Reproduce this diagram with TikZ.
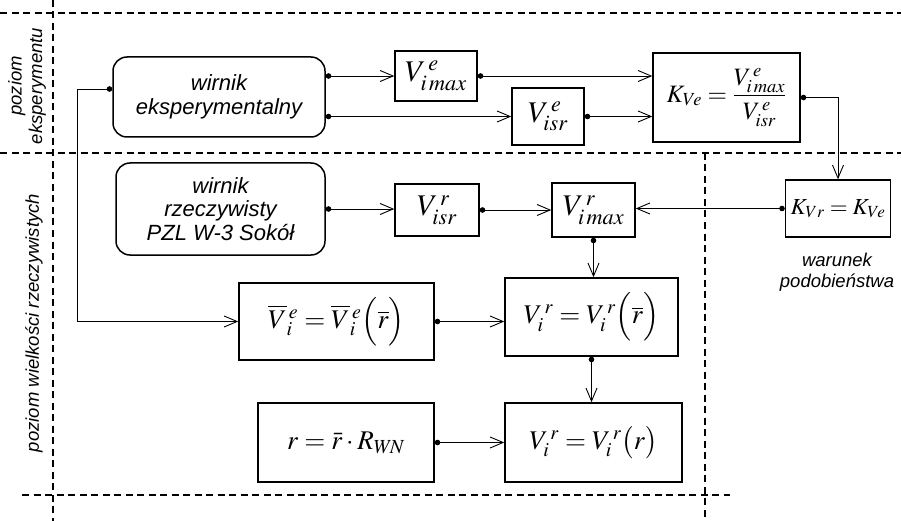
\documentclass[tikz,border=0pt]{standalone}
\usepackage{mathptmx}
\usepackage{amsmath}
\usepackage[no-math]{fontspec}
\newfontfamily\labfont{Liberation Sans}
\usetikzlibrary{arrows.meta,calc}
\begin{document}
\begin{tikzpicture}[x=1pt,y=-1pt,
  box/.style={draw,line width=1.5pt,inner sep=0pt,fill=white},
  rbox/.style={box,rounded corners=14pt,align=center,font=\labfont\itshape\fontsize{22}{23.5}\selectfont},
  mbig/.style={font=\fontsize{30}{32}\selectfont},
  mmid/.style={font=\fontsize{27}{29}\selectfont},
  msml/.style={font=\fontsize{23}{25}\selectfont},
  mfrac/.style={font=\fontsize{25}{27}\selectfont},
  arr/.style={line width=0.9pt,{Circle[length=5.5pt]}-{Straight Barb[length=13pt,width=11pt]}},
  sep/.style={line width=1.1pt,dash pattern=on 7pt off 4.5pt},
  lab/.style={font=\labfont\itshape\fontsize{18.5}{20.5}\selectfont,align=center}
]
\useasboundingbox (0,0) rectangle (901,521);
% separators
\draw[sep] (0,13) -- (901,13);
\draw[sep] (0,153) -- (901,153);
\draw[sep] (22,495) -- (730,495);
\draw[sep] (53,0) -- (53,521);
\draw[sep] (705,153) -- (705,521);
% level labels
\node[lab,rotate=90] (l1) at (27,86) {poziom\\eksperymentu};
\node[lab,rotate=90] (l2) at (34,323) {poziom wielkości rzeczywistych};
\node[lab] (l3) at (837,272) {warunek\\podobieństwa};
% boxes
\node[rbox,minimum width=212pt,minimum height=80pt] (we) at (219,97) {wirnik\\eksperymentalny};
\node[box,mbig,minimum width=82pt,minimum height=50pt] (vme) at (436,76) {$V^{\,e}_{i\,max}$};
\node[box,mbig,minimum width=72pt,minimum height=57pt] (vse) at (548,116.5) {$V^{\,e}_{isr}$};
\node[box,mfrac,minimum width=147pt,minimum height=89pt] (kve) at (726.5,97.5) {$K_{Ve}=\dfrac{V^{\,e}_{i\,max}}{V^{\,e}_{isr}}$};
\node[rbox,minimum width=209pt,minimum height=92pt] (wr) at (220.5,209) {wirnik\\rzeczywisty\\PZL W-3 Sokół};
\node[box,mbig,minimum width=84pt,minimum height=52pt] (vsr) at (437,210) {$V^{\,r}_{isr}$};
\node[box,mbig,minimum width=83pt,minimum height=54pt] (vmr) at (593.5,210) {$V^{\,r}_{i\,max}$};
\node[box,msml,minimum width=105pt,minimum height=57pt] (kvr) at (838,208.5) {$K_{Vr}=K_{Ve}$};
\node[box,mmid,minimum width=195pt,minimum height=77pt] (vie) at (336.5,321.5) {$\overline{V}{}^{\,e}_{i}=\overline{V}{}^{\,e}_{i}\Bigl(\overline{r}\Bigr)$};
\node[box,mmid,minimum width=173pt,minimum height=78pt] (vir1) at (591.5,317) {$V^{\,r}_{i}=V^{\,r}_{i}\Bigl(\overline{r}\Bigr)$};
\node[box,mmid,minimum width=176pt,minimum height=79pt] (rb) at (346,442.5) {$r=\bar{r}\cdot R_{W\!N}$};
\node[box,mmid,minimum width=177pt,minimum height=79pt] (vir2) at (593.5,442.5) {$V^{\,r}_{i}=V^{\,r}_{i}\bigl(r\bigr)$};
% connectors
\draw[arr] (we.east |- vme) -- (vme.west);
\draw[arr] (vme.east) -- (vme.east -| kve.west);
\draw[arr] (we.east |- vse) -- (vse.west);
\draw[arr] (vse.east) -- (vse.east -| kve.west);
\draw[arr] (kve.east) -| (kvr.north);
\draw[arr] (wr.east) -- (wr.east -| vsr.west);
\draw[arr] (vsr.east) -- (vmr.west);
\draw[arr] (kvr.west) -- (kvr.west -| vmr.east);
\draw[arr] (vmr.south) -- (vmr.south |- vir1.north);
\coordinate (fb) at (77,89);
\draw[arr] (we.west |- fb) -- (fb) |- (vie.west);
\draw[arr] (vie.east) -- (vie.east -| vir1.west);
\draw[arr] (vir1.south) -- (vir1.south |- vir2.north);
\draw[arr] (rb.east) -- (vir2.west);
\end{tikzpicture}
\end{document}
